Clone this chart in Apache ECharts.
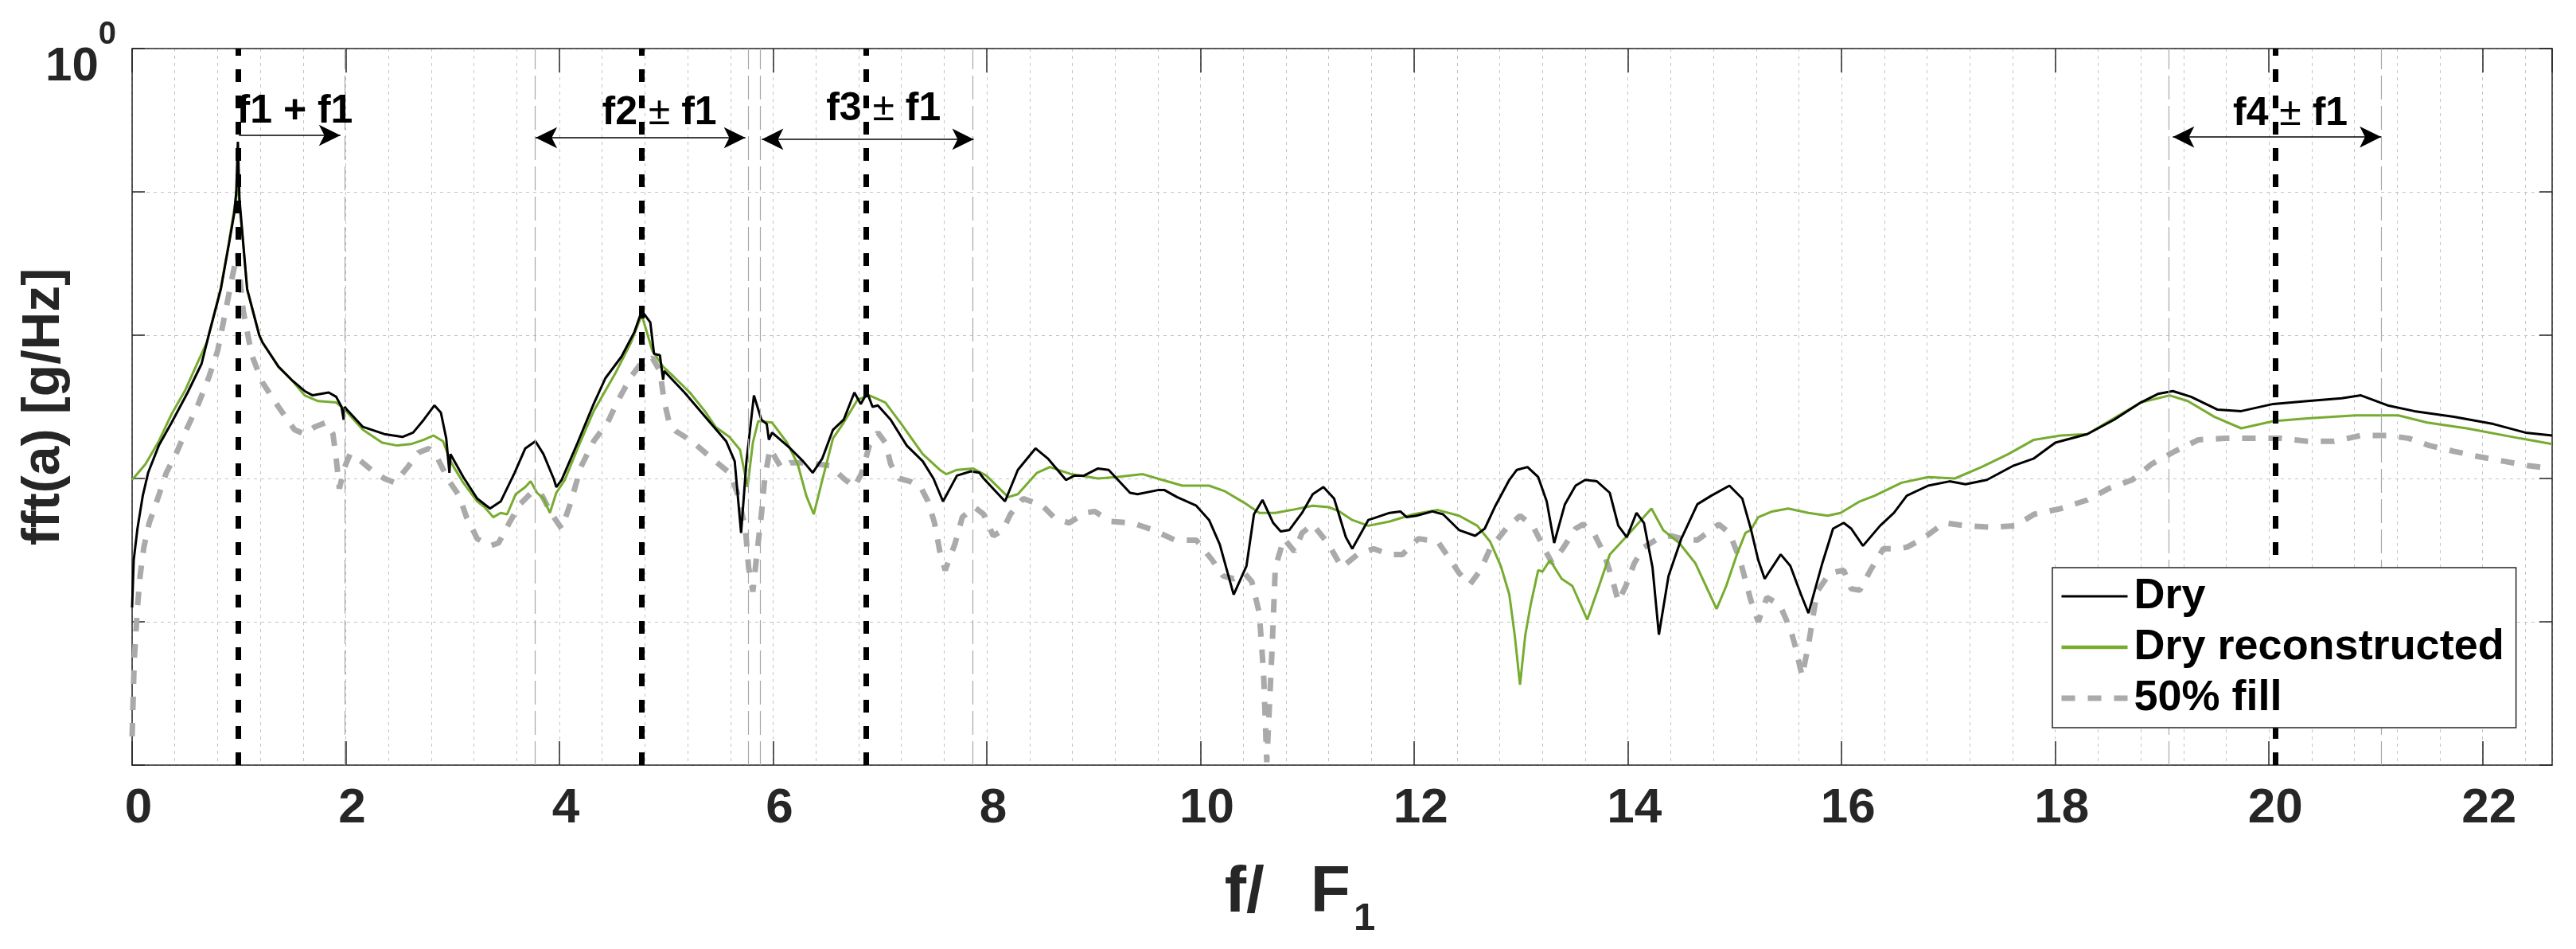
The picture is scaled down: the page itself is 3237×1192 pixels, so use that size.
<!DOCTYPE html>
<html>
<head>
<meta charset="utf-8">
<script src="https://cdn.jsdelivr.net/npm/echarts@6/dist/echarts.min.js"></script>
<style>
  html, body { margin: 0; padding: 0; background: #fff; }
  #chart { width: 3237px; height: 1192px; }
</style>
</head>
<body>
<div id="chart"></div>
<script>
// f/F1 positions and log10(fft) values
const dryF = [0, 0.015, 0.05, 0.1, 0.15, 0.25, 0.37, 0.52, 0.65, 0.717, 0.83, 0.907, 0.956, 0.975, 0.99, 1.005, 1.04, 1.077, 1.19, 1.22, 1.37, 1.49, 1.615, 1.69, 1.84, 1.91, 1.96, 1.98, 1.99, 2.01, 2.16, 2.36, 2.53, 2.63, 2.73, 2.83, 2.89, 2.94, 2.97, 2.98, 3.1, 3.23, 3.35, 3.45, 3.58, 3.68, 3.775, 3.85, 3.95, 3.97, 4.02, 4.17, 4.32, 4.43, 4.58, 4.7, 4.77, 4.85, 4.885, 4.94, 4.97, 4.98, 5.17, 5.41, 5.56, 5.64, 5.7, 5.75, 5.82, 5.89, 5.94, 5.96, 5.99, 6.16, 6.28, 6.37, 6.46, 6.56, 6.66, 6.76, 6.82, 6.88, 6.93, 6.98, 7.1, 7.25, 7.4, 7.5, 7.59, 7.72, 7.85, 7.93, 7.97, 8.17, 8.29, 8.455, 8.57, 8.74, 8.82, 8.91, 9.04, 9.14, 9.34, 9.41, 9.61, 9.66, 9.78, 9.96, 10.08, 10.18, 10.31, 10.43, 10.5, 10.58, 10.68, 10.75, 10.83, 10.95, 11.05, 11.15, 11.25, 11.36, 11.42, 11.57, 11.65, 11.77, 11.87, 11.93, 12.02, 12.17, 12.27, 12.42, 12.57, 12.66, 12.76, 12.89, 12.96, 13.06, 13.16, 13.24, 13.31, 13.41, 13.51, 13.6, 13.71, 13.83, 13.91, 13.99, 14.08, 14.15, 14.23, 14.29, 14.38, 14.5, 14.65, 14.78, 14.95, 15.07, 15.15, 15.22, 15.28, 15.43, 15.52, 15.62, 15.69, 15.82, 15.92, 16.02, 16.09, 16.2, 16.36, 16.49, 16.61, 16.81, 17.01, 17.16, 17.36, 17.61, 17.8, 18.0, 18.3, 18.55, 18.8, 18.96, 19.1, 19.27, 19.52, 19.74, 20.04, 20.36, 20.68, 20.86, 21.11, 21.36, 21.73, 22.1, 22.4, 22.65];
const dryLog = [-3.9, -3.57, -3.35, -3.12, -2.96, -2.77, -2.61, -2.4, -2.2, -2.0, -1.68, -1.36, -1.15, -1.0, -0.65, -1.05, -1.36, -1.68, -2.0, -2.05, -2.22, -2.31, -2.39, -2.42, -2.4, -2.43, -2.5, -2.59, -2.5, -2.52, -2.64, -2.69, -2.71, -2.68, -2.59, -2.49, -2.54, -2.72, -2.96, -2.83, -2.99, -3.14, -3.21, -3.16, -2.96, -2.79, -2.74, -2.83, -3.01, -3.06, -3.01, -2.75, -2.48, -2.3, -2.15, -1.98, -1.83, -1.91, -2.13, -2.14, -2.31, -2.25, -2.4, -2.61, -2.74, -2.88, -3.38, -2.88, -2.42, -2.59, -2.62, -2.73, -2.68, -2.79, -2.88, -2.96, -2.86, -2.66, -2.59, -2.4, -2.48, -2.4, -2.5, -2.49, -2.59, -2.77, -2.88, -3.0, -3.16, -2.98, -2.95, -2.96, -3.0, -3.16, -2.94, -2.79, -2.86, -3.01, -2.98, -2.98, -2.93, -2.94, -3.1, -3.11, -3.08, -3.08, -3.13, -3.19, -3.29, -3.46, -3.81, -3.61, -3.25, -3.15, -3.31, -3.37, -3.36, -3.24, -3.11, -3.06, -3.14, -3.41, -3.49, -3.29, -3.27, -3.24, -3.23, -3.27, -3.26, -3.23, -3.25, -3.36, -3.4, -3.35, -3.19, -3.01, -2.94, -2.92, -2.99, -3.16, -3.45, -3.18, -3.05, -3.01, -3.02, -3.1, -3.33, -3.41, -3.24, -3.31, -3.62, -4.09, -3.68, -3.42, -3.18, -3.12, -3.05, -3.14, -3.35, -3.57, -3.7, -3.53, -3.61, -3.81, -3.94, -3.59, -3.35, -3.31, -3.35, -3.47, -3.33, -3.24, -3.12, -3.05, -3.02, -3.04, -3.01, -2.91, -2.86, -2.75, -2.69, -2.59, -2.47, -2.41, -2.39, -2.43, -2.52, -2.53, -2.48, -2.46, -2.44, -2.42, -2.49, -2.53, -2.57, -2.62, -2.68, -2.7];

const recF = [0, 0.125, 0.25, 0.37, 0.5, 0.62, 0.7, 0.83, 0.907, 0.956, 0.99, 1.005, 1.04, 1.077, 1.19, 1.22, 1.37, 1.49, 1.615, 1.74, 1.91, 1.99, 2.16, 2.34, 2.48, 2.61, 2.73, 2.82, 2.91, 2.97, 3.01, 3.1, 3.23, 3.3, 3.38, 3.45, 3.51, 3.59, 3.68, 3.73, 3.79, 3.85, 3.91, 3.97, 4.05, 4.17, 4.32, 4.52, 4.67, 4.77, 4.87, 4.97, 5.07, 5.22, 5.36, 5.46, 5.59, 5.69, 5.76, 5.81, 5.86, 5.99, 6.13, 6.23, 6.31, 6.38, 6.46, 6.56, 6.66, 6.79, 6.9, 7.05, 7.2, 7.4, 7.56, 7.62, 7.72, 7.87, 7.995, 8.2, 8.29, 8.47, 8.59, 8.79, 9.04, 9.21, 9.46, 9.64, 9.83, 10.08, 10.23, 10.41, 10.55, 10.7, 10.85, 11.05, 11.2, 11.3, 11.42, 11.57, 11.77, 11.99, 12.22, 12.42, 12.59, 12.71, 12.81, 12.89, 12.94, 12.99, 13.04, 13.09, 13.16, 13.2, 13.27, 13.38, 13.48, 13.62, 13.73, 13.83, 13.98, 14.1, 14.22, 14.33, 14.48, 14.63, 14.73, 14.83, 14.92, 15.02, 15.1, 15.15, 15.22, 15.35, 15.5, 15.69, 15.87, 15.99, 16.17, 16.31, 16.56, 16.81, 17.06, 17.31, 17.56, 17.8, 18.05, 18.3, 18.55, 18.8, 19.07, 19.24, 19.49, 19.74, 20.04, 20.36, 20.81, 21.21, 21.48, 21.85, 22.35, 22.65];
const recLog = [-3.01, -2.9, -2.74, -2.55, -2.38, -2.18, -2.05, -1.67, -1.35, -1.12, -0.95, -1.1, -1.36, -1.68, -2.0, -2.05, -2.22, -2.31, -2.42, -2.46, -2.47, -2.52, -2.66, -2.75, -2.77, -2.76, -2.73, -2.7, -2.74, -2.86, -2.92, -3.03, -3.16, -3.2, -3.27, -3.24, -3.25, -3.11, -3.06, -3.02, -3.1, -3.14, -3.24, -3.1, -3.01, -2.79, -2.53, -2.27, -2.05, -1.86, -2.11, -2.22, -2.29, -2.4, -2.53, -2.64, -2.71, -2.8, -3.06, -2.75, -2.6, -2.61, -2.75, -2.9, -3.12, -3.25, -3.01, -2.72, -2.61, -2.45, -2.42, -2.47, -2.62, -2.83, -2.94, -2.97, -2.94, -2.93, -2.98, -3.13, -3.11, -2.96, -2.92, -2.97, -3.0, -2.99, -2.97, -3.01, -3.05, -3.05, -3.09, -3.17, -3.24, -3.24, -3.22, -3.19, -3.2, -3.23, -3.29, -3.33, -3.3, -3.25, -3.22, -3.26, -3.33, -3.44, -3.61, -3.81, -4.09, -4.44, -4.09, -3.88, -3.64, -3.65, -3.57, -3.7, -3.75, -3.985, -3.75, -3.53, -3.41, -3.31, -3.21, -3.36, -3.45, -3.59, -3.75, -3.91, -3.75, -3.53, -3.38, -3.36, -3.27, -3.23, -3.21, -3.24, -3.26, -3.24, -3.16, -3.12, -3.03, -2.99, -3.0, -2.92, -2.83, -2.73, -2.7, -2.69, -2.58, -2.47, -2.42, -2.46, -2.57, -2.65, -2.6, -2.58, -2.56, -2.56, -2.61, -2.65, -2.72, -2.76];

const fillF = [0, 0.02, 0.05, 0.075, 0.11, 0.16, 0.24, 0.32, 0.41, 0.52, 0.62, 0.72, 0.8, 0.83, 0.944, 0.985, 1.04, 1.12, 1.22, 1.37, 1.52, 1.615, 1.71, 1.81, 1.88, 1.91, 1.94, 1.99, 2.04, 2.11, 2.24, 2.36, 2.46, 2.58, 2.68, 2.78, 2.86, 2.96, 3.06, 3.13, 3.23, 3.35, 3.43, 3.53, 3.63, 3.75, 3.83, 3.92, 4.02, 4.1, 4.2, 4.32, 4.45, 4.545, 4.67, 4.77, 4.87, 4.94, 4.98, 5.03, 5.09, 5.24, 5.41, 5.59, 5.66, 5.74, 5.77, 5.81, 5.85, 5.89, 5.92, 5.97, 6.04, 6.08, 6.16, 6.31, 6.53, 6.66, 6.76, 6.83, 6.9, 6.98, 7.05, 7.1, 7.18, 7.28, 7.38, 7.45, 7.51, 7.56, 7.61, 7.7, 7.77, 7.885, 7.97, 8.06, 8.15, 8.22, 8.34, 8.52, 8.64, 8.77, 8.92, 9.01, 9.16, 9.36, 9.56, 9.76, 9.96, 10.11, 10.21, 10.31, 10.41, 10.48, 10.55, 10.59, 10.62, 10.67, 10.7, 10.78, 10.88, 10.95, 11.05, 11.2, 11.32, 11.47, 11.62, 11.77, 11.89, 12.04, 12.22, 12.34, 12.42, 12.52, 12.62, 12.71, 12.86, 12.99, 13.11, 13.21, 13.29, 13.39, 13.51, 13.58, 13.68, 13.78, 13.86, 13.91, 13.98, 14.06, 14.15, 14.28, 14.4, 14.5, 14.65, 14.85, 14.95, 15.05, 15.15, 15.22, 15.3, 15.42, 15.52, 15.57, 15.63, 15.69, 15.77, 15.89, 16.02, 16.09, 16.17, 16.27, 16.39, 16.51, 16.61, 16.76, 16.96, 17.16, 17.41, 17.63, 17.8, 18.05, 18.3, 18.5, 18.72, 18.9, 19.12, 19.34, 19.59, 19.87, 20.11, 20.36, 20.61, 20.86, 21.11, 21.31, 21.5, 21.73, 21.98, 22.2, 22.42, 22.65];
const fillLog = [-4.8, -4.27, -3.9, -3.68, -3.48, -3.31, -3.14, -2.96, -2.83, -2.64, -2.48, -2.29, -2.11, -2.0, -1.57, -1.43, -1.83, -2.14, -2.33, -2.5, -2.66, -2.69, -2.64, -2.61, -2.69, -2.86, -3.07, -2.92, -2.83, -2.86, -2.94, -3.0, -3.03, -2.92, -2.82, -2.79, -2.86, -3.01, -3.12, -3.27, -3.42, -3.47, -3.45, -3.31, -3.18, -3.09, -3.11, -3.24, -3.35, -3.18, -2.92, -2.74, -2.61, -2.46, -2.29, -2.19, -2.16, -2.25, -2.46, -2.62, -2.67, -2.74, -2.85, -2.96, -3.09, -3.35, -3.62, -3.79, -3.51, -3.25, -3.01, -2.79, -2.88, -2.93, -2.89, -2.89, -2.91, -3.0, -3.06, -2.96, -2.77, -2.68, -2.75, -2.9, -3.0, -3.02, -3.06, -3.16, -3.31, -3.51, -3.64, -3.46, -3.27, -3.2, -3.25, -3.4, -3.36, -3.25, -3.14, -3.19, -3.28, -3.31, -3.24, -3.23, -3.3, -3.31, -3.36, -3.43, -3.43, -3.57, -3.68, -3.7, -3.66, -3.72, -3.94, -4.36, -4.98, -4.18, -3.62, -3.42, -3.51, -3.38, -3.32, -3.46, -3.62, -3.53, -3.49, -3.53, -3.53, -3.42, -3.44, -3.57, -3.66, -3.74, -3.64, -3.49, -3.35, -3.26, -3.33, -3.48, -3.59, -3.49, -3.35, -3.32, -3.38, -3.53, -3.72, -3.86, -3.75, -3.59, -3.48, -3.42, -3.4, -3.42, -3.43, -3.32, -3.38, -3.57, -3.85, -4.0, -3.83, -3.88, -4.05, -4.18, -4.38, -4.16, -3.79, -3.66, -3.64, -3.77, -3.78, -3.64, -3.49, -3.49, -3.48, -3.42, -3.31, -3.33, -3.34, -3.33, -3.25, -3.21, -3.15, -3.07, -3.01, -2.9, -2.81, -2.73, -2.72, -2.72, -2.72, -2.74, -2.74, -2.7, -2.7, -2.72, -2.77, -2.81, -2.85, -2.88, -2.91, -2.93];

// harmonic markers (f/F1)
const modeLines = [0.99, 4.773, 6.874, 20.06];
const sideLines = [1.99, 3.775, 5.774, 5.876, 7.872, 19.06, 21.05];

// range arrows: [from, to, height]
const arrowFrom = [1.0, 3.777, 5.894, 19.1];
const arrowTo = [1.95, 5.74, 7.877, 21.05];
const arrowAt = [0.248, 0.2387, 0.2328, 0.2415];
const arrowBoth = [false, true, true, true];

// range labels
const noteText = ['{b|f1 + f1}', '{b|f2 }{p|±}{b| f1}', '{b|f3 }{p|±}{b| f1}', '{b|f4 }{p|±}{b| f1}'];
const noteF = [1.523, 4.935, 7.033, 20.2];
const noteAt = [0.363, 0.352, 0.378, 0.35];

const pair = (xs, ls) => xs.map((x, i) => [x, Math.pow(10, ls[i])]);

const FONT = "'Liberation Sans', Arial, Helvetica, sans-serif";
const INK = '#262626';
const GRID = { color: '#c4c4c4', width: 1, type: [4, 5] };

const DRY = { color: '#000000', width: 3 };
const REC = { color: '#77ac30', width: 3 };
const FILL = { color: '#aaaaaa', width: 7, type: [17, 16] };
const HIDE = { opacity: 0 };

const chart = echarts.init(document.getElementById('chart'), null, { renderer: 'canvas' });

chart.setOption({
  animation: false,
  backgroundColor: '#ffffff',
  textStyle: { fontFamily: FONT },
  grid: { left: 166, right: 30, top: 61, bottom: 231, containLabel: false, outerBoundsMode: 'none' },
  legend: {
    z: 20,
    data: [
      { name: 'Dry', itemStyle: HIDE, lineStyle: { color: '#000000', width: 3 } },
      { name: 'Dry reconstructed', itemStyle: HIDE, lineStyle: { color: '#77ac30', width: 4.5 } },
      { name: '50% fill', itemStyle: HIDE, lineStyle: { color: '#aaaaaa', width: 7, type: [17, 16] } }
    ],
    orient: 'vertical',
    left: 2579,
    top: 713,
    padding: [9, 15, 10, 8],
    itemGap: 10,
    itemWidth: 83,
    itemHeight: 54,
    backgroundColor: '#ffffff',
    borderColor: INK,
    borderWidth: 1.5,
    borderRadius: 0,
    selectedMode: false,
    itemStyle: HIDE,
    textStyle: { fontFamily: FONT, fontSize: 54, fontWeight: 'bold', color: '#000', lineHeight: 54, padding: [0, 0, 0, 3] }
  },
  xAxis: [{
    type: 'value',
    min: 0,
    max: 22.65,
    interval: 2,
    name: '{n|f/}{m|F}{s|1}',
    nameLocation: 'middle',
    nameGap: 120,
    nameMoveOverlap: false,
    nameTextStyle: {
      padding: [0, 106, 0, 0],
      rich: {
        n: { fontFamily: FONT, fontSize: 82, fontWeight: 'bold', color: INK, lineHeight: 82, verticalAlign: 'top' },
        m: { fontFamily: FONT, fontSize: 82, fontWeight: 'bold', color: INK, lineHeight: 82, verticalAlign: 'top', padding: [0, 0, 0, 58] },
        s: { fontFamily: FONT, fontSize: 49, fontWeight: 'bold', color: INK, lineHeight: 98, verticalAlign: 'bottom', padding: [0, 0, 0, 4] }
      }
    },
    axisLine: { show: true, onZero: false, lineStyle: { color: INK, width: 1.5 } },
    axisTick: { show: true, inside: true, length: 30, lineStyle: { color: INK, width: 1.5 } },
    axisLabel: { fontFamily: FONT, fontSize: 62, fontWeight: 'bold', color: INK, margin: 24, padding: [0, 0, 0, 16] },
    splitLine: { show: true, lineStyle: GRID },
    minorTick: { show: false, splitNumber: 5 },
    minorSplitLine: { show: true, lineStyle: GRID }
  }, {
    type: 'value',
    position: 'top',
    min: 0,
    max: 22.65,
    interval: 2,
    axisLine: { show: true, onZero: false, lineStyle: { color: INK, width: 1.5 } },
    axisTick: { show: true, inside: true, length: 30, lineStyle: { color: INK, width: 1.5 } },
    axisLabel: { show: false },
    splitLine: { show: false }
  }],
  yAxis: [{
    type: 'log',
    logBase: 10,
    min: 1e-5,
    max: 1,
    splitNumber: 5,
    name: 'fft(a) [g/Hz]',
    nameLocation: 'middle',
    nameGap: 77,
    nameMoveOverlap: false,
    nameTextStyle: { fontFamily: FONT, fontSize: 66, fontWeight: 'bold', color: INK },
    axisLine: { show: true, onZero: false, lineStyle: { color: INK, width: 1.5 } },
    axisTick: { show: true, inside: true, length: 16, lineStyle: { color: INK, width: 1.5 } },
    axisLabel: {
      margin: 20,
      padding: [16, 0, 0, 0],
      formatter: v => (Math.abs(Math.log10(v)) < 1e-6 ? '{b|10}{s|0}' : ''),
      rich: {
        b: { fontFamily: FONT, fontSize: 60, fontWeight: 'bold', color: INK, lineHeight: 90, verticalAlign: 'bottom' },
        s: { fontFamily: FONT, fontSize: 40, fontWeight: 'bold', color: INK, lineHeight: 40, verticalAlign: 'top' }
      }
    },
    splitLine: { show: true, lineStyle: GRID }
  }, {
    type: 'log',
    logBase: 10,
    min: 1e-5,
    max: 1,
    splitNumber: 5,
    position: 'right',
    axisLine: { show: true, onZero: false, lineStyle: { color: INK, width: 1.5 } },
    axisTick: { show: true, inside: true, length: 16, lineStyle: { color: INK, width: 1.5 } },
    axisLabel: { show: false },
    splitLine: { show: false }
  }],
  series: [
    {
      name: 'sidebands',
      type: 'line',
      data: [],
      z: 1,
      silent: true,
      markLine: {
        silent: true,
        symbol: 'none',
        label: { show: false },
        lineStyle: { color: '#a8a8a8', width: 1.2, type: [30, 8] },
        data: sideLines.map(v => ({ xAxis: v }))
      }
    },
    {
      name: '50% fill',
      type: 'line',
      data: pair(fillF, fillLog),
      showSymbol: false,
      symbol: 'none',
      z: 2,
      lineStyle: FILL,
      itemStyle: { color: '#aaaaaa' }
    },
    {
      name: 'Dry reconstructed',
      type: 'line',
      data: pair(recF, recLog),
      showSymbol: false,
      symbol: 'none',
      z: 3,
      lineStyle: REC,
      itemStyle: { color: '#77ac30' }
    },
    {
      name: 'Dry',
      type: 'line',
      data: pair(dryF, dryLog),
      showSymbol: false,
      symbol: 'none',
      z: 4,
      lineStyle: DRY,
      itemStyle: { color: '#000000' }
    },
    {
      name: 'modes',
      type: 'line',
      data: [],
      z: 5,
      silent: true,
      markLine: {
        silent: true,
        symbol: 'none',
        label: { show: false },
        lineStyle: { color: '#000000', width: 7, type: [16, 17] },
        data: modeLines.map(v => ({ xAxis: v }))
      },
      markPoint: {
        silent: true,
        symbol: 'rect',
        symbolSize: 1,
        itemStyle: { color: 'rgba(0,0,0,0)' },
        label: {
          show: true,
          position: 'inside',
          rich: {
            b: { fontFamily: FONT, fontSize: 50, fontWeight: 'bold', color: '#000' },
            p: { fontFamily: FONT, fontSize: 50, fontWeight: 'normal', color: '#000' }
          }
        },
        data: noteF.map((f, i) => ({ coord: [f, noteAt[i]], label: { formatter: noteText[i] } }))
      }
    },
    {
      name: 'ranges',
      type: 'line',
      data: [],
      z: 6,
      silent: true,
      markLine: {
        silent: true,
        label: { show: false },
        symbolSize: [20, 27],
        lineStyle: { color: '#000000', width: 1.5, type: 'solid' },
        data: arrowFrom.map((f, i) => [
          { coord: [f, arrowAt[i]], symbol: arrowBoth[i] ? 'arrow' : 'none' },
          { coord: [arrowTo[i], arrowAt[i]], symbol: 'arrow' }
        ])
      }
    }
  ]
});
</script>
</body>
</html>
